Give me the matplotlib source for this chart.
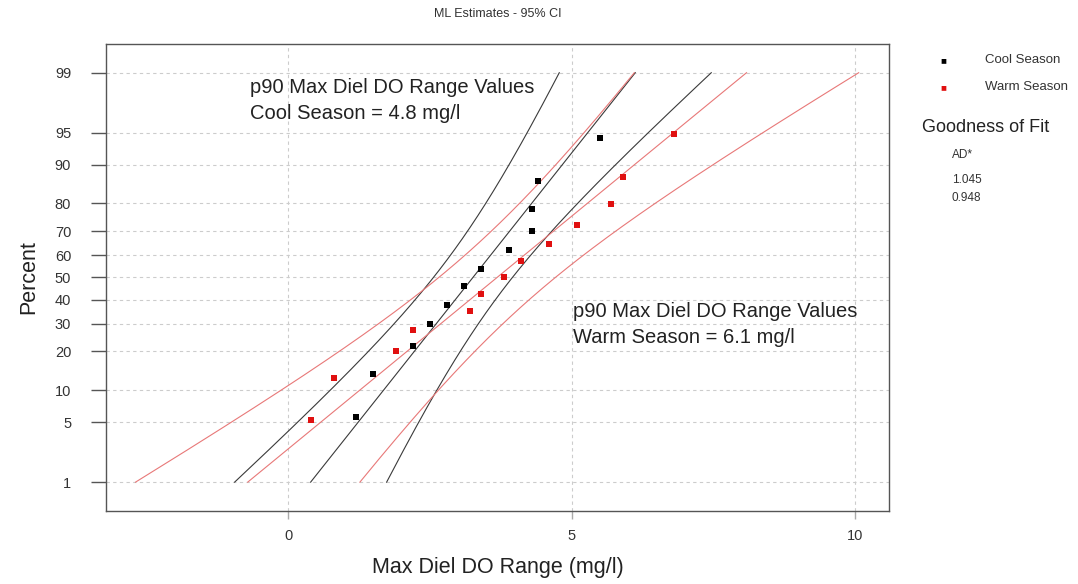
from statistics import NormalDist

import numpy as np
import matplotlib
matplotlib.use("Agg")
import matplotlib.pyplot as plt

plt.rcParams['font.family'] = ['Liberation Sans', 'DejaVu Sans']

# observed max diel DO range (mg/l) and their plotting positions (percent)
cool_x = [1.2, 1.5, 2.2, 2.5, 2.8, 3.1, 3.4, 3.9, 4.3, 4.3, 4.4, 5.5]
cool_pct = [5.6, 13.7, 21.8, 29.8, 37.9, 46.0, 54.0, 62.1, 70.2, 78.2, 86.3, 94.4]
warm_x = [0.4, 0.8, 1.9, 2.2, 3.2, 3.4, 3.8, 4.1, 4.6, 5.1, 5.7, 5.9, 6.8]
warm_pct = [5.2, 12.7, 20.1, 27.6, 35.1, 42.5, 50.0, 57.5, 64.9, 72.4, 79.9, 87.3, 94.8]

pct_ticks = [1, 5, 10, 20, 30, 40, 50, 60, 70, 80, 90, 95, 99]
ad_stats = ['1.045', '0.948']

nd = NormalDist()
_ppf = np.vectorize(lambda p: nd.inv_cdf(p), otypes=[float])
_cdf = np.vectorize(lambda z: nd.cdf(z), otypes=[float])


def fwd(p):
    p = np.clip(np.asarray(p, dtype=float) / 100.0, 1e-9, 1 - 1e-9)
    return _ppf(p)


def inv(z):
    return _cdf(np.asarray(z, dtype=float)) * 100.0


def ml_fit(x):
    x = np.asarray(x)
    mu = x.mean()
    sigma = np.sqrt(((x - mu) ** 2).mean())
    return mu, sigma, len(x)


fig = plt.figure(figsize=(10.78, 5.84), dpi=100)
ax = fig.add_axes([0.0983, 0.1255, 0.7264, 0.7986])
ax.set_yscale('function', functions=(fwd, inv))

curve_pct = np.linspace(1, 99, 200)
zc = fwd(curve_pct)
for xs, pct, col, pcol in [(cool_x, cool_pct, '#3a3a3a', 'black'),
                           (warm_x, warm_pct, '#e87878', '#e01010')]:
    mu, sigma, n = ml_fit(xs)
    centre = mu + zc * sigma
    half = 1.96 * sigma * np.sqrt(1.0 / n + zc ** 2 / (2.0 * n))
    ax.plot(centre, curve_pct, color=col, lw=0.8, zorder=2)
    ax.plot(centre - half, curve_pct, color=col, lw=0.8, zorder=2)
    ax.plot(centre + half, curve_pct, color=col, lw=0.8, zorder=2)
    ax.scatter(xs, pct, marker='s', s=16, color=pcol, zorder=3, linewidths=0)

lo, hi = inv(-2.651), inv(2.649)
ax.set_ylim(lo, hi)
ax.set_xlim(-3.217, 10.60)
ax.set_yticks(pct_ticks)
ax.set_yticklabels([str(t) for t in pct_ticks])
ax.yaxis.set_minor_locator(matplotlib.ticker.NullLocator())
ax.set_xticks([0, 5, 10])

ax.grid(True, color='#cccccc', ls=(0, (3, 3)), lw=0.8)
ax.set_axisbelow(True)
for s in ax.spines.values():
    s.set_color('#555555')
    s.set_linewidth(1.0)
ax.tick_params(axis='y', direction='out', length=11, width=1, color='#555555',
               labelsize=10.5, labelcolor='#333333', pad=14)
ax.tick_params(axis='x', direction='out', length=6, width=1, color='#aaaaaa',
               labelsize=10.5, labelcolor='#333333', pad=7)

ax.set_xlabel('Max Diel DO Range (mg/l)', fontsize=15.5, color='#222222', labelpad=10)
ax.set_ylabel('Percent', fontsize=15.5, color='#222222', labelpad=11)
fig.text(0.4615, 0.976, 'ML Estimates - 95% CI', ha='center', va='center',
         fontsize=9, color='#333333')

ax.text(-0.68, 97.8, 'p90 Max Diel DO Range Values\nCool Season = 4.8 mg/l',
        fontsize=14.5, color='#222222', va='center', linespacing=1.45)
ax.text(5.03, 29.6, 'p90 Max Diel DO Range Values\nWarm Season = 6.1 mg/l',
        fontsize=14.5, color='#222222', va='center', linespacing=1.45)

# legend and goodness-of-fit block to the right of the plot
fig.text(0.875, 1 - 60 / 584, '\u25a0', color='black', fontsize=7, ha='center', va='center')
fig.text(0.875, 1 - 87 / 584, '\u25a0', color='#e01010', fontsize=7, ha='center', va='center')
fig.text(0.914, 1 - 60 / 584, 'Cool Season', fontsize=9.5, color='#333333', va='center')
fig.text(0.914, 1 - 87 / 584, 'Warm Season', fontsize=9.5, color='#333333', va='center')
fig.text(0.855, 1 - 128 / 584, 'Goodness of Fit', fontsize=13, color='#222222', va='center')
fig.text(0.883, 1 - 155 / 584, 'AD*', fontsize=8.5, color='#333333', va='center')
fig.text(0.883, 1 - 180 / 584, ad_stats[0], fontsize=8.5, color='#333333', va='center')
fig.text(0.883, 1 - 198 / 584, ad_stats[1], fontsize=8.5, color='#333333', va='center')

fig.savefig('out.png', dpi=100)
